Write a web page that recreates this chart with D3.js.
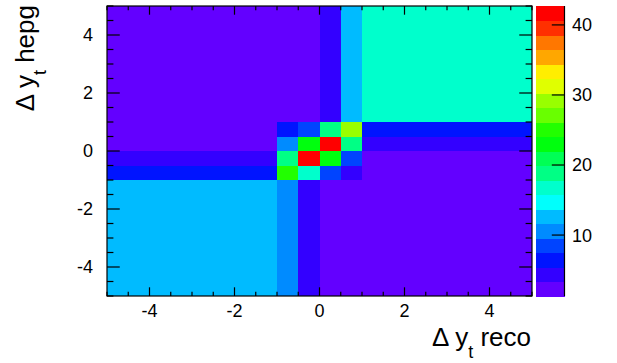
<!DOCTYPE html>
<html>
<head>
<meta charset="utf-8">
<script src="https://cdn.jsdelivr.net/npm/d3@7"></script>
<style>
  html, body { margin: 0; padding: 0; background: #fff; }
  svg { display: block; }
  text { font-family: "Liberation Sans", Arial, Helvetica, sans-serif; fill: #000; }
</style>
</head>
<body>
<svg id="chart" width="617" height="363"></svg>
<script>
// ---- data ----
const xEdges = [-5, -1, -0.5, 0, 0.5, 1, 5];
const yEdges = [-5, -1, -0.5, 0, 0.5, 1, 5];
// bin contents, one row per y bin (bottom row first), one value per x bin
const row0 = [12.7, 10.4, 4.4, 1.3, 1.7, 2.1];   // y in [-5,-1]
const row1 = [6.8, 25.0, 16.9, 8.7, 4.2, 2.0];   // y in [-1,-0.5]
const row2 = [4.5, 19.2, 41.8, 23.4, 8.3, 2.5];  // y in [-0.5,0]
const row3 = [2.6, 10.5, 23.1, 42.7, 18.6, 4.3]; // y in [0,0.5]
const row4 = [2.2, 6.6, 8.6, 18.8, 29.4, 6.2];   // y in [0.5,1]
const row5 = [1.6, 2.1, 2.4, 4.6, 12.9, 16.5];   // y in [1,5]
const rows = [row0, row1, row2, row3, row4, row5];
const xTickLabels = [-4, -2, 0, 2, 4];
const yTickLabels = [-4, -2, 0, 2, 4];
const zTickLabels = [10, 20, 30, 40];
const xTitle = ["\u0394 y", "t", " reco"];
const yTitle = ["\u0394 y", "t", " hepg"];

// ---- layout ----
const svg = d3.select("#chart");
const fx0 = 107, fx1 = 532, fy0 = 6, fy1 = 296;
const px0 = 536, px1 = 564.5;

const x = d3.scaleLinear().domain([-5, 5]).range([fx0, fx1]);
const y = d3.scaleLinear().domain([-5, 5]).range([fy1, fy0]);

// ROOT "pretty" palette: 50 colours, hue from 280 down to 0
const nCol = 50, nCont = 20;
const palette = d3.range(nCol).map(i => d3.hsl(280 - (i + 1) * (280 / nCol), 1, 0.5).formatHex());
const contColor = k => palette[Math.floor((k + 0.99) * nCol / nCont)];

const cells = [];
rows.forEach((r, j) => r.forEach((v, i) => cells.push({i, j, v})));
const zmin = d3.min(cells, d => d.v), zmax = d3.max(cells, d => d.v);
const dz = (zmax - zmin) / nCont;
const kOf = v => Math.max(0, Math.min(nCont - 1, Math.floor((v - zmin) / dz + 1e-9)));
const z = d3.scaleLinear().domain([zmin, zmax]).range([fy1, fy0]);

// cells
svg.append("g").attr("shape-rendering", "crispEdges")
  .selectAll("rect").data(cells).join("rect")
  .attr("x", d => x(xEdges[d.i]))
  .attr("y", d => y(yEdges[d.j + 1]))
  .attr("width", d => x(xEdges[d.i + 1]) - x(xEdges[d.i]))
  .attr("height", d => y(yEdges[d.j]) - y(yEdges[d.j + 1]))
  .attr("fill", d => contColor(kOf(d.v)));

// frame
svg.append("rect").attr("x", fx0).attr("y", fy0).attr("width", fx1 - fx0).attr("height", fy1 - fy0)
  .attr("fill", "none").attr("stroke", "#000").attr("stroke-width", 1.2);

// ticks (ROOT style: inside, on all four sides)
const tickVals = d3.range(-5, 5.001, 0.5);
const isMajor = t => Math.abs(t / 2 - Math.round(t / 2)) < 1e-6 && Math.abs(t) < 5;
const tg = svg.append("g").attr("stroke", "#000").attr("stroke-width", 1.2);
const xMaj = 8.7, xMin = 4.35, yMaj = 12.75, yMin = 6.4;
tickVals.forEach(t => {
  const L = isMajor(t) ? xMaj : xMin;
  const xx = x(t);
  tg.append("line").attr("x1", xx).attr("x2", xx).attr("y1", fy1).attr("y2", fy1 - L);
  tg.append("line").attr("x1", xx).attr("x2", xx).attr("y1", fy0).attr("y2", fy0 + L);
});
tickVals.forEach(t => {
  const L = isMajor(t) ? yMaj : yMin;
  const yy = y(t);
  tg.append("line").attr("y1", yy).attr("y2", yy).attr("x1", fx0).attr("x2", fx0 + L);
  tg.append("line").attr("y1", yy).attr("y2", yy).attr("x1", fx1).attr("x2", fx1 - L);
});

// tick labels
svg.append("g").selectAll("text").data(xTickLabels).join("text")
  .attr("x", d => x(d)).attr("y", 317).attr("text-anchor", "middle")
  .attr("font-size", 18).text(d => d);
svg.append("g").selectAll("text").data(yTickLabels).join("text")
  .attr("x", 93).attr("y", d => y(d)).attr("dy", "0.36em").attr("text-anchor", "end")
  .attr("font-size", 18).text(d => d);

// axis titles
function title(g, parts) {
  const t = g.append("text").attr("text-anchor", "end").attr("font-size", 26);
  t.append("tspan").text(parts[0]);
  t.append("tspan").attr("font-size", 18).attr("dy", 12).text(parts[1]);
  t.append("tspan").attr("dy", -12).text(parts[2]);
}
title(svg.append("g").attr("transform", `translate(531,346)`), xTitle);
title(svg.append("g").attr("transform", `translate(34,5) rotate(-90)`), yTitle);

// palette
const pg = svg.append("g");
pg.append("g").attr("shape-rendering", "crispEdges")
  .selectAll("rect").data(d3.range(nCont)).join("rect")
  .attr("x", px0).attr("width", px1 - px0)
  .attr("y", k => z(zmin + (k + 1) * dz))
  .attr("height", k => z(zmin + k * dz) - z(zmin + (k + 1) * dz) + 0.5)
  .attr("fill", k => contColor(k));
pg.append("line").attr("x1", px1).attr("x2", px1).attr("y1", fy0).attr("y2", fy1)
  .attr("stroke", "#000").attr("stroke-width", 1.2);
zTickLabels.forEach(t => {
  pg.append("line").attr("x1", px1).attr("x2", px1 - 12.7).attr("y1", z(t)).attr("y2", z(t))
    .attr("stroke", "#000").attr("stroke-width", 1.2);
  pg.append("text").attr("x", 572).attr("y", z(t)).attr("dy", "0.36em")
    .attr("font-size", 18).text(t);
});
</script>
</body>
</html>
